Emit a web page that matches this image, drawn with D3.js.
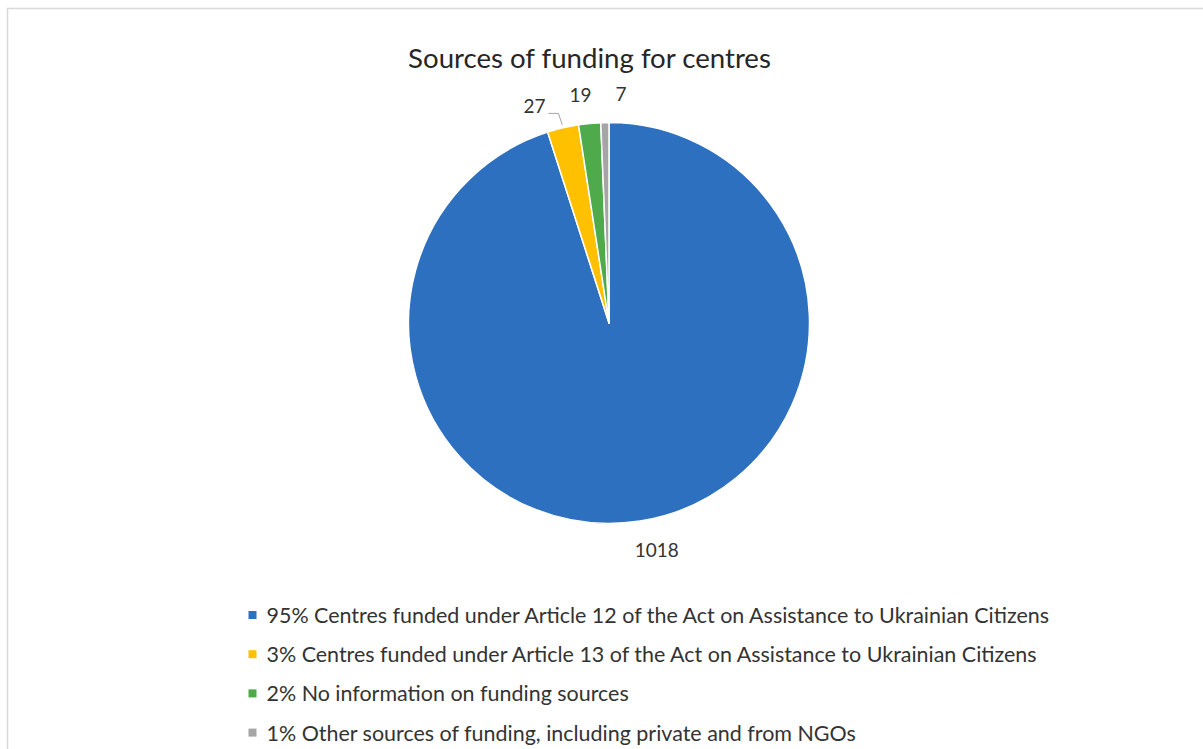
<!DOCTYPE html>
<html>
<head>
<meta charset="utf-8">
<script src="https://cdn.jsdelivr.net/npm/d3@7"></script>
<style>
  html, body { margin: 0; padding: 0; background: #fff; }
  svg { display: block; }
  text { font-family: Lato, "Open Sans", sans-serif; fill: #333; }
</style>
</head>
<body>
<svg id="chart" width="1203" height="749"></svg>
<script>
// Funding sources for centres (number of centres)
const categories = [
  "Centres funded under Article 12 of the Act on Assistance to Ukrainian Citizens",
  "Centres funded under Article 13 of the Act on Assistance to Ukrainian Citizens",
  "No information on funding sources",
  "Other sources of funding, including private and from NGOs"
];
const values = [1018, 27, 19, 7];
const percentLabels = ["95%", "3%", "2%", "1%"];
const colors = ["#2E70C0", "#FFC000", "#4EAA4A", "#A5A5A5"];
const title = "Sources of funding for centres";

const W = 1203, H = 749;
const svg = d3.select("#chart");

// outer chart frame
svg.append("rect")
  .attr("x", 7.5).attr("y", 8.5)
  .attr("width", W + 10).attr("height", H + 10)
  .attr("fill", "#fff").attr("stroke", "#D9D9D9").attr("stroke-width", 1.5);

// fit a text element's font size to a given width
function fitText(sel, base, width) {
  sel.style("font-size", base + "px");
  const w = sel.node().getComputedTextLength();
  const size = base * width / w;
  sel.style("font-size", size + "px");
  return size;
}

const titleText = svg.append("text")
  .attr("x", 589.5).attr("y", 57)
  .attr("text-anchor", "middle")
  .attr("dominant-baseline", "central")
  .style("fill", "#262626")
  .text(title);
fitText(titleText, 24, 363);

// pie
const cx = 609, cy = 323, R = 200.5;
const pie = d3.pie().sort(null).value(d => d)(values);
const arc = d3.arc().innerRadius(0).outerRadius(R);
const g = svg.append("g").attr("transform", `translate(${cx},${cy})`);

g.selectAll("path.slice")
  .data(pie)
  .join("path")
  .attr("class", "slice")
  .attr("d", arc)
  .attr("fill", (d, i) => colors[i])
  .attr("stroke", "#fff")
  .attr("stroke-width", 1.5)
  .attr("stroke-linejoin", "round");

// data labels placed outside the slices
const labelR = 230, anchorR = 220, labelH = 19;
const mid = d => (d.startAngle + d.endAngle) / 2;
const clamp1 = v => Math.max(-1, Math.min(1, v));
const labels = g.selectAll("text.val")
  .data(pie)
  .join("text")
  .attr("class", "val")
  .attr("text-anchor", "middle")
  .attr("dominant-baseline", "central")
  .style("fill", "#333")
  .text(d => d.data);
// size numbers so the widest one is about 44px wide
const numSize = fitText(labels.filter((d, i) => i === 0), 18, 44);
labels.style("font-size", numSize + "px");

// each label box sits just outside the rim, pushed away from the pie
const L = pie.map((d, i) => {
  const a = mid(d);
  const w = labels.nodes()[i].getComputedTextLength();
  const s = Math.sin(a), c = -Math.cos(a);
  return { i, a, w,
           x: anchorR * s + clamp1(4 * s) * w / 2,
           y: anchorR * c + clamp1(4 * c) * labelH / 2 };
});

// spread the crowded labels near the top so they do not overlap
const gap = 24;
const crowded = L.filter(l => l.y < -labelR * 0.8).sort((p, q) => q.x - p.x);
if (crowded.length > 1) {
  const before = d3.mean(crowded, l => l.x);
  for (let k = 1; k < crowded.length; k++) {
    const lim = crowded[k - 1].x - ((crowded[k - 1].w + crowded[k].w) / 2 + gap);
    if (crowded[k].x > lim) crowded[k].x = lim;
  }
  const shift = before - d3.mean(crowded, l => l.x);
  crowded.forEach(l => {
    l.x += shift;
    l.y = -Math.sqrt(labelR * labelR - l.x * l.x);
  });
}
labels.attr("x", (d, i) => L[i].x).attr("y", (d, i) => L[i].y);

// leader lines for spread labels moved counter-clockwise away from their slice
crowded.forEach(l => {
  const la = Math.atan2(l.x, -l.y);
  const ma = l.a > Math.PI ? l.a - 2 * Math.PI : l.a;
  if (la - ma < -2 * Math.PI / 180) {
    const sx = l.x + l.w / 2 + 3, sy = l.y + 8;
    const ex = (R + 3) * Math.sin(l.a), ey = -(R + 3) * Math.cos(l.a);
    g.append("path")
      .attr("d", d3.line()([[sx, sy], [sx + 10, sy], [ex, ey]]))
      .attr("fill", "none")
      .attr("stroke", "#A6A6A6")
      .attr("stroke-width", 1);
  }
});

// legend
const legend = svg.append("g");
const rowY = i => 615 + i * 39.2;
legend.selectAll("rect")
  .data(categories)
  .join("rect")
  .attr("x", 248.5).attr("y", (d, i) => rowY(i) - 4)
  .attr("width", 8).attr("height", 8)
  .attr("fill", (d, i) => colors[i]);
const lt = legend.selectAll("text")
  .data(categories)
  .join("text")
  .attr("x", 266.5).attr("y", (d, i) => rowY(i))
  .attr("dominant-baseline", "central")
  .style("fill", "#333")
  .text((d, i) => percentLabels[i] + " " + d);
const legSize = fitText(lt.filter((d, i) => i === 0), 19, 783);
lt.style("font-size", legSize + "px");
</script>
</body>
</html>
